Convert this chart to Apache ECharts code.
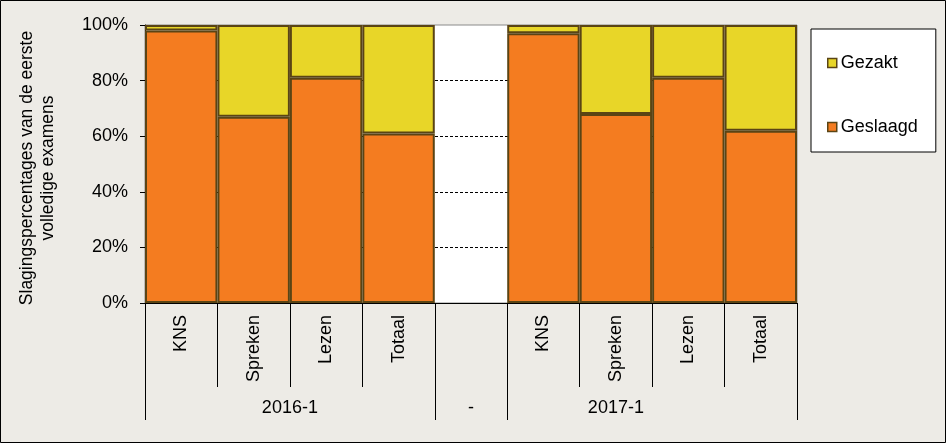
<!DOCTYPE html>
<html>
<head>
<meta charset="utf-8">
<script src="https://cdn.jsdelivr.net/npm/echarts@6/dist/echarts.min.js"></script>
<style>
html,body{margin:0;padding:0;background:#edebe6;}
#chart{width:946px;height:443px;}
</style>
</head>
<body>
<div id="chart"></div>
<script>
const categories = ['KNS','Spreken','Lezen','Totaal','','KNS','Spreken','Lezen','Totaal'];
const geslaagd = [98, 67, 81, 61, null, 97, 68, 81, 62];
const gezakt   = [2, 33, 19, 39, null, 3, 32, 19, 38];
const groupLabels = ['2016-1', '-', '2017-1'];
const groupCenters = [2, 4.5, 6.5];
const groupBounds = [0, 4, 5, 9];

const FONT = 'Liberation Sans, Arial, sans-serif';
const FS = 18;
const chart = echarts.init(document.getElementById('chart'), null, {renderer:'canvas'});
const option = {
  backgroundColor: '#edebe6',
  animation: false,
  textStyle: {fontFamily: FONT, color: '#000'},
  grid: {left: 145, right: 149, top: 25, bottom: 140, show: true, backgroundColor: '#ffffff', borderColor: '#8a8a8a', borderWidth: 1},
  legend: {
    orient: 'vertical', left: 811, top: 29,
    data: ['Gezakt', 'Geslaagd'],
    backgroundColor: '#ffffff', borderColor: '#000', borderWidth: 1,
    padding: [25, 18, 16, 16], itemGap: 46,
    itemWidth: 9, itemHeight: 9, icon: 'rect',
    textStyle: {fontFamily: FONT, fontSize: FS, color: '#000', padding: [0, 0, 0, -1]},
    itemStyle: {borderWidth: 1.5, borderColor: '#5a4414'}
  },
  xAxis: [
    {
      type: 'category', data: categories, position: 'bottom',
      axisLine: {show: true, lineStyle: {color: '#000', width: 1}},
      axisTick: {show: true, interval: 0, length: 84, lineStyle: {color: '#000'}},
      axisLabel: {interval: 0, rotate: 90, margin: 12, fontSize: FS, fontFamily: FONT, color: '#000'},
      splitLine: {show: false}
    },
    {
      type: 'value', min: 0, max: 9, position: 'bottom', gridIndex: 0,
      axisLine: {show: false},
      axisTick: {show: true, customValues: groupBounds, length: 117, lineStyle: {color: '#000'}},
      axisLabel: {
        customValues: groupCenters, margin: 96, fontSize: FS, fontFamily: FONT, color: '#000',
        formatter: function (v) { const i = groupCenters.indexOf(v); return i >= 0 ? groupLabels[i] : ''; }
      },
      splitLine: {show: false}
    }
  ],
  yAxis: {
    type: 'value', min: 0, max: 100, interval: 20,
    name: 'Slagingspercentages van de eerste\nvolledige examens',
    nameLocation: 'middle', nameGap: 86, nameRotate: 90,
    nameTextStyle: {fontFamily: FONT, fontSize: 17.5, color: '#000', lineHeight: 21, padding: [0, 8, 0, 0]},
    axisLine: {show: true, lineStyle: {color: '#000'}},
    axisTick: {show: true, length: 5, lineStyle: {color: '#000'}},
    axisLabel: {margin: 17, fontSize: FS, fontFamily: FONT, color: '#000', formatter: '{value}%'},
    splitLine: {show: true, showMaxLine: false, showMinLine: false, lineStyle: {color: '#000', type: [3, 2], width: 1}}
  },
  series: [
    {
      name: 'Geslaagd', type: 'bar', stack: 'tot', data: geslaagd,
      barCategoryGap: '0%', barGap: '0%',
      itemStyle: {color: '#f47c20', borderColor: '#5a4414', borderWidth: 2}
    },
    {
      name: 'Gezakt', type: 'bar', stack: 'tot', data: gezakt,
      barCategoryGap: '0%', barGap: '0%',
      itemStyle: {color: '#e8d628', borderColor: '#5a4414', borderWidth: 2}
    }
  ],
  graphic: [{
    type: 'rect', silent: true, z: 100,
    shape: {x: 0.5, y: 0.5, width: 945, height: 442},
    style: {fill: 'none', stroke: '#000', lineWidth: 1}
  }]
};
chart.setOption(option);
</script>
</body>
</html>
